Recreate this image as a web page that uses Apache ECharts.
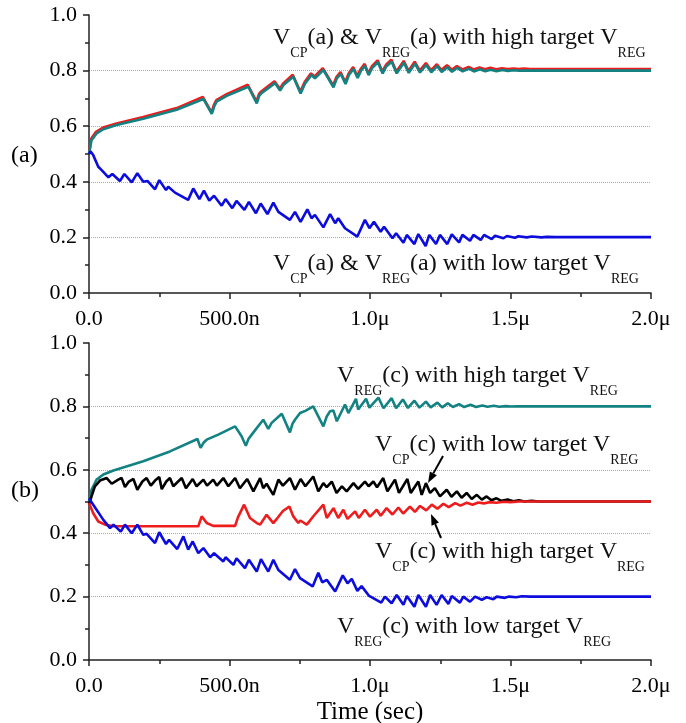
<!DOCTYPE html>
<html>
<head>
<meta charset="utf-8">
<script src="https://cdn.jsdelivr.net/npm/echarts@6.0.0/dist/echarts.min.js"></script>
<style>
html, body { margin: 0; padding: 0; background: #fff; }
#chart { width: 686px; height: 723px; }
</style>
</head>
<body>
<div id="chart"></div>
<script>
// time in ns, value in volts
var xTickLabels = ['0.0', '500.0n', '1.0\u03bc', '1.5\u03bc', '2.0\u03bc'];
var yTickLabels = ['0.0', '0.2', '0.4', '0.6', '0.8', '1.0'];

// panel (a): high target, V_CP (red) and V_REG (teal)
var redA = [[0,0.5],[8,0.556],[25,0.58],[50,0.595],[98,0.61],[193,0.633],[312,0.665],[405,0.705],[436,0.65],[445,0.678],[453,0.694],[490,0.715],[565,0.749],[596,0.689],[605,0.716],[614,0.726],[660,0.762],[679,0.735],[691,0.754],[725,0.785],[752,0.725],[768,0.76],[790,0.79],[803,0.779],[832,0.809],[869,0.747],[881,0.778],[895,0.795],[912,0.759],[924,0.79],[940,0.813],[955,0.781],[967,0.806],[981,0.824],[994,0.79],[1007,0.816],[1027,0.837],[1044,0.797],[1057,0.821],[1076,0.839],[1094,0.797],[1120,0.835],[1137,0.799],[1159,0.832],[1177,0.8],[1199,0.827],[1217,0.801],[1238,0.823],[1254,0.802],[1274,0.819],[1291,0.803],[1309,0.816],[1329,0.804],[1351,0.813],[1369,0.804],[1390,0.811],[1409,0.805],[1428,0.81],[1449,0.805],[1470,0.808],[1489,0.806],[1511,0.807],[1529,0.806],[1547,0.807],[1570,0.806],[1600,0.806],[2000,0.806]];
var tealA = [[0,0.5],[9,0.55],[27,0.574],[51,0.589],[98,0.604],[193,0.627],[312,0.659],[407,0.698],[437,0.644],[446,0.672],[454,0.688],[490,0.709],[567,0.742],[597,0.682],[606,0.71],[615,0.72],[662,0.755],[680,0.728],[692,0.748],[727,0.778],[753,0.718],[769,0.754],[792,0.784],[804,0.772],[834,0.802],[870,0.74],[882,0.772],[896,0.788],[913,0.752],[925,0.784],[941,0.806],[956,0.774],[968,0.8],[982,0.817],[995,0.784],[1008,0.81],[1028,0.83],[1045,0.79],[1058,0.815],[1077,0.832],[1095,0.79],[1121,0.828],[1138,0.792],[1160,0.825],[1178,0.793],[1200,0.82],[1218,0.794],[1239,0.816],[1255,0.795],[1275,0.812],[1292,0.796],[1310,0.81],[1330,0.797],[1352,0.807],[1370,0.797],[1391,0.805],[1410,0.798],[1429,0.803],[1450,0.798],[1471,0.802],[1490,0.799],[1512,0.801],[1530,0.7995],[1548,0.8005],[1570,0.7998],[1600,0.8],[2000,0.8]];
// panel (a): low target
var blueA = [[0,0.5],[5,0.51],[15,0.496],[33,0.454],[45,0.442],[69,0.416],[83,0.428],[110,0.403],[126,0.428],[152,0.398],[172,0.431],[193,0.4],[208,0.403],[235,0.373],[250,0.406],[274,0.37],[282,0.382],[306,0.361],[353,0.335],[371,0.376],[393,0.338],[409,0.368],[428,0.332],[445,0.35],[472,0.314],[486,0.338],[510,0.305],[525,0.331],[553,0.299],[569,0.328],[594,0.287],[611,0.322],[635,0.284],[656,0.325],[674,0.292],[715,0.263],[733,0.292],[753,0.256],[777,0.301],[792,0.269],[804,0.281],[834,0.236],[858,0.284],[876,0.251],[887,0.269],[911,0.233],[955,0.203],[982,0.263],[998,0.233],[1014,0.256],[1038,0.22],[1050,0.238],[1080,0.197],[1093,0.215],[1119,0.181],[1131,0.209],[1158,0.176],[1172,0.212],[1198,0.169],[1211,0.209],[1235,0.176],[1249,0.209],[1275,0.176],[1291,0.211],[1317,0.182],[1329,0.209],[1356,0.188],[1368,0.209],[1394,0.191],[1406,0.209],[1433,0.194],[1445,0.206],[1475,0.197],[1487,0.205],[1516,0.199],[1528,0.204],[1558,0.2],[1576,0.203],[1610,0.2],[1630,0.202],[1660,0.201],[2000,0.201]];

// panel (b)
var tealB = [[0,0.5],[9,0.537],[27,0.569],[51,0.585],[87,0.598],[193,0.627],[288,0.658],[386,0.697],[397,0.669],[408,0.686],[419,0.695],[460,0.711],[520,0.737],[543,0.706],[558,0.676],[568,0.698],[579,0.711],[620,0.758],[638,0.729],[650,0.748],[686,0.777],[715,0.718],[724,0.745],[733,0.758],[751,0.779],[756,0.776],[770,0.786],[798,0.8],[834,0.737],[846,0.768],[858,0.785],[870,0.787],[882,0.753],[911,0.806],[923,0.779],[950,0.824],[958,0.79],[986,0.824],[998,0.796],[1030,0.828],[1048,0.794],[1077,0.826],[1093,0.794],[1117,0.822],[1135,0.795],[1158,0.818],[1176,0.796],[1199,0.815],[1216,0.797],[1240,0.812],[1257,0.797],[1277,0.81],[1295,0.798],[1317,0.807],[1335,0.798],[1358,0.805],[1377,0.798],[1400,0.803],[1418,0.799],[1441,0.802],[1460,0.799],[1483,0.801],[1502,0.7995],[1524,0.8005],[1545,0.8],[2000,0.8]];
var blackB = [[0,0.49],[9,0.516],[21,0.548],[39,0.566],[63,0.574],[81,0.556],[104,0.569],[116,0.574],[128,0.546],[142,0.563],[158,0.571],[172,0.537],[190,0.563],[205,0.574],[220,0.55],[235,0.566],[250,0.577],[259,0.539],[275,0.563],[288,0.574],[300,0.548],[330,0.574],[345,0.542],[369,0.571],[383,0.548],[407,0.569],[420,0.55],[442,0.569],[455,0.55],[478,0.574],[496,0.548],[520,0.574],[537,0.542],[563,0.571],[585,0.532],[609,0.574],[620,0.542],[632,0.556],[656,0.521],[674,0.569],[690,0.55],[715,0.574],[733,0.537],[753,0.571],[770,0.548],[798,0.579],[816,0.532],[834,0.558],[846,0.545],[864,0.563],[881,0.527],[900,0.548],[917,0.532],[941,0.558],[958,0.54],[982,0.563],[995,0.548],[1012,0.563],[1025,0.545],[1047,0.574],[1062,0.532],[1089,0.569],[1103,0.527],[1133,0.571],[1145,0.527],[1172,0.563],[1184,0.521],[1199,0.558],[1214,0.527],[1231,0.542],[1249,0.516],[1273,0.537],[1290,0.515],[1309,0.532],[1326,0.512],[1344,0.527],[1362,0.508],[1380,0.521],[1398,0.506],[1415,0.516],[1432,0.504],[1450,0.51],[1468,0.502],[1490,0.506],[1510,0.501],[1530,0.504],[1550,0.5],[1575,0.502],[1600,0.5],[2000,0.5]];
var redB = [[0,0.495],[15,0.463],[33,0.437],[57,0.427],[87,0.422],[389,0.422],[401,0.453],[419,0.432],[442,0.423],[520,0.423],[530,0.45],[552,0.49],[573,0.448],[597,0.432],[609,0.427],[632,0.458],[656,0.432],[668,0.445],[690,0.47],[713,0.484],[727,0.453],[745,0.432],[752,0.44],[775,0.427],[800,0.455],[834,0.49],[846,0.448],[870,0.479],[887,0.448],[905,0.474],[920,0.445],[947,0.469],[960,0.448],[982,0.474],[1000,0.452],[1024,0.474],[1038,0.455],[1059,0.479],[1080,0.459],[1101,0.481],[1118,0.462],[1142,0.484],[1160,0.467],[1178,0.486],[1200,0.472],[1220,0.49],[1240,0.477],[1261,0.493],[1280,0.482],[1303,0.495],[1322,0.487],[1344,0.496],[1365,0.49],[1385,0.497],[1405,0.494],[1425,0.498],[1450,0.496],[1475,0.499],[1500,0.498],[1530,0.5],[2000,0.5]];
var blueB = [[0,0.51],[5,0.515],[15,0.49],[27,0.474],[51,0.442],[75,0.416],[87,0.427],[113,0.405],[128,0.427],[152,0.4],[172,0.427],[193,0.395],[205,0.398],[235,0.369],[250,0.403],[274,0.366],[285,0.379],[314,0.35],[336,0.39],[353,0.348],[369,0.374],[389,0.337],[407,0.353],[431,0.324],[445,0.337],[478,0.311],[486,0.324],[514,0.3],[525,0.321],[555,0.29],[569,0.316],[597,0.279],[612,0.318],[638,0.279],[656,0.316],[674,0.284],[715,0.253],[733,0.287],[751,0.258],[796,0.232],[816,0.275],[830,0.245],[846,0.253],[876,0.216],[903,0.267],[920,0.242],[935,0.256],[955,0.218],[970,0.233],[997,0.202],[1004,0.208],[1040,0.181],[1053,0.2],[1077,0.179],[1095,0.205],[1119,0.174],[1131,0.202],[1158,0.168],[1172,0.205],[1199,0.168],[1214,0.205],[1237,0.174],[1255,0.205],[1279,0.177],[1291,0.202],[1320,0.181],[1332,0.2],[1356,0.184],[1374,0.2],[1398,0.19],[1415,0.198],[1439,0.192],[1451,0.2],[1480,0.196],[1495,0.2],[1520,0.198],[1540,0.201],[1570,0.2],[2000,0.2]];

var FONT = 'Liberation Serif';
var AXIS_COLOR = '#222';

function make_x_axis(grid_index)
{
    return {
        type: 'value',
        gridIndex: grid_index,
        min: 0,
        max: 2000,
        interval: 500,
        axisLine: { onZero: false, lineStyle: { color: AXIS_COLOR, width: 1.5 } },
        axisTick: { length: 6, lineStyle: { color: AXIS_COLOR, width: 1.5 } },
        minorTick: { show: true, splitNumber: 2, length: 4, lineStyle: { color: AXIS_COLOR, width: 1.5 } },
        splitLine: { show: false },
        axisLabel: {
            fontFamily: FONT,
            fontSize: 22,
            color: '#000',
            margin: 15,
            formatter: function (v) {
                return xTickLabels[Math.round(v / 500)]
            }
        }
    }
}

function make_y_axis(grid_index)
{
    return {
        type: 'value',
        gridIndex: grid_index,
        min: 0,
        max: 1,
        interval: 0.2,
        axisLine: { show: true, onZero: false, lineStyle: { color: AXIS_COLOR, width: 1.5 } },
        axisTick: { show: true, length: 6, lineStyle: { color: AXIS_COLOR, width: 1.5 } },
        minorTick: { show: true, splitNumber: 2, length: 4, lineStyle: { color: AXIS_COLOR, width: 1.5 } },
        splitLine: {
            show: true,
            showMinLine: false,
            showMaxLine: false,
            lineStyle: { color: '#aaa', type: 'dotted', width: 1 }
        },
        axisLabel: {
            fontFamily: FONT,
            fontSize: 22,
            color: '#000',
            margin: 12,
            formatter: function (v) {
                return yTickLabels[Math.round(v / 0.2)]
            }
        }
    }
}

function make_line(data, color, grid_index, z)
{
    return {
        type: 'line',
        xAxisIndex: grid_index,
        yAxisIndex: grid_index,
        data: data,
        symbol: 'none',
        showSymbol: false,
        smooth: false,
        z: z,
        lineStyle: { color: color, width: 2.6 },
        itemStyle: { color: color },
        animation: false
    }
}

var rich = {
    m: { fontSize: 24, fontFamily: FONT, lineHeight: 44, fill: '#111' },
    s: { fontSize: 14, fontFamily: FONT, lineHeight: 14, verticalAlign: 'bottom', fill: '#111' }
};

// baseline of the big letters sits about 29px under the block top
function rich_label(x, baseline, text)
{
    return {
        type: 'text',
        x: x,
        y: baseline - 29,
        z: 100,
        style: { text: text, rich: rich, align: 'left', verticalAlign: 'top' }
    }
}

function arrow(x1, y1, x2, y2)
{
    var dx = x2 - x1, dy = y2 - y1;
    var len = Math.sqrt(dx * dx + dy * dy);
    var ux = dx / len, uy = dy / len;
    var head = 11, half = 4;
    var bx = x2 - ux * head, by = y2 - uy * head;
    return [
        { type: 'line', z: 100, shape: { x1: x1, y1: y1, x2: bx, y2: by }, style: { stroke: '#000', lineWidth: 2 } },
        { type: 'polygon', z: 100, shape: { points: [[x2, y2], [bx - uy * half, by + ux * half], [bx + uy * half, by - ux * half]] }, style: { fill: '#000' } }
    ]
}

var chart = echarts.init(document.getElementById('chart'));

var elements = [
    rich_label(273, 45, '{m|V}{s|CP}{m|(a) & V}{s|REG}{m|(a) with high target V}{s|REG}'),
    rich_label(273, 271, '{m|V}{s|CP}{m|(a) & V}{s|REG}{m|(a) with low target V}{s|REG}'),
    rich_label(337, 383, '{m|V}{s|REG}{m|(c) with high target V}{s|REG}'),
    rich_label(375, 452, '{m|V}{s|CP}{m|(c) with low target V}{s|REG}'),
    rich_label(375, 559, '{m|V}{s|CP}{m|(c) with high target V}{s|REG}'),
    rich_label(337, 634, '{m|V}{s|REG}{m|(c) with low target V}{s|REG}'),
    { type: 'text', x: 11, y: 156, z: 100, style: { text: '(a)', font: '24px "Liberation Serif"', fill: '#000', verticalAlign: 'middle' } },
    { type: 'text', x: 11, y: 491, z: 100, style: { text: '(b)', font: '24px "Liberation Serif"', fill: '#000', verticalAlign: 'middle' } }
].concat(arrow(443, 456, 428, 483)).concat(arrow(441, 538, 431, 514));

var x_top = make_x_axis(0);
var x_bottom = make_x_axis(1);
x_bottom.name = 'Time (sec)';
x_bottom.nameLocation = 'middle';
x_bottom.nameGap = 40;
x_bottom.nameTextStyle = { fontFamily: FONT, fontSize: 25, color: '#000' };

var option = {
    backgroundColor: '#fff',
    animation: false,
    grid: [
        { left: 89, top: 15, width: 562, height: 278, containLabel: false, outerBoundsMode: 'none' },
        { left: 89, top: 343, width: 562, height: 317, containLabel: false, outerBoundsMode: 'none' }
    ],
    xAxis: [x_top, x_bottom],
    yAxis: [make_y_axis(0), make_y_axis(1)],
    series: [
        make_line(redA, '#ee1c1c', 0, 2),
        make_line(tealA, '#138282', 0, 3),
        make_line(blueA, '#0c0cdc', 0, 4),
        make_line(tealB, '#138282', 1, 2),
        make_line(blackB, '#000000', 1, 3),
        make_line(redB, '#ee1c1c', 1, 4),
        make_line(blueB, '#0c0cdc', 1, 5)
    ],
    graphic: { elements: elements }
};
chart.setOption(option);
</script>
</body>
</html>
